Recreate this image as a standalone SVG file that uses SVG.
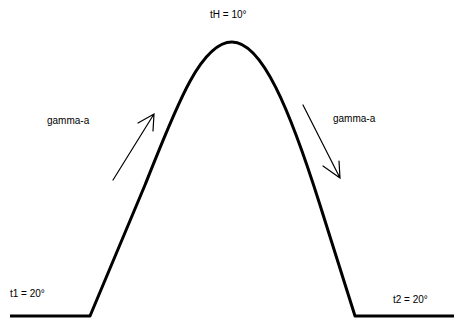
<svg xmlns="http://www.w3.org/2000/svg" width="454" height="320" viewBox="0 0 454 320">
<style>
.lbl{font-family:"Liberation Sans",Arial,sans-serif;font-size:10px;fill:#000}
.curve{fill:none;stroke:#000;stroke-width:3;stroke-linejoin:round}
.arr{fill:none;stroke:#000;stroke-width:1.2;stroke-linecap:round}
</style>
<rect width="454" height="320" fill="#fff"/>
<g id="curve">
<path class="curve" d="M10,316 L90,316 L145,185 C175,110 200,42 232,42 C262,42 290,110 320,205 L355,316 L454,316"/>
</g>
<g id="labels">
<text class="lbl" x="10" y="297">t1 = 20°</text>
<text class="lbl" x="393" y="303">t2 = 20°</text>
<text class="lbl" x="210" y="18">tH = 10°</text>
<text class="lbl" x="47" y="124">gamma-a</text>
<text class="lbl" x="333" y="122">gamma-a</text>
</g>
<g id="connectors">
<path class="arr" d="M113,180 L154,114 M138,123 L154,114 L153,131"/>
<path class="arr" d="M303,105 L340,178 M323,166 L340,178 L339,161"/>
</g>
</svg>
